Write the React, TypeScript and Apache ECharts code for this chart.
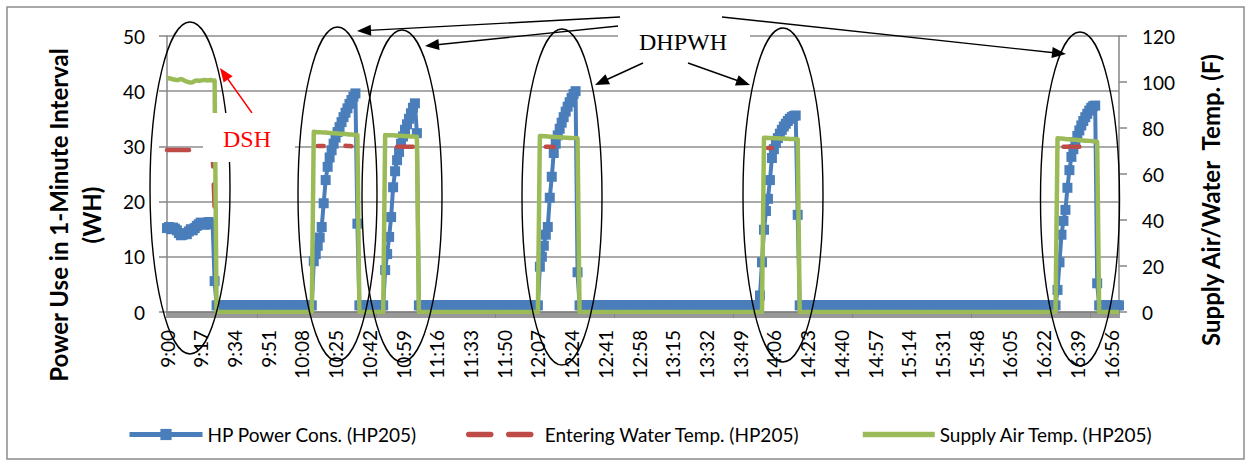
import React, { useEffect, useRef } from "react";
import * as echarts from "echarts";

// ---------- DATA ----------
const MINUTES = 481; // 9:00 .. 17:00, one reading per minute
const categories: string[] = Array.from({ length: MINUTES }, (_, m) =>
  `${9 + Math.floor(m / 60)}:${String(m % 60).padStart(2, "0")}`
);

const POWER_NAME = "HP Power Cons. (HP205)";
const WATER_NAME = "Entering Water Temp. (HP205)";
const AIR_NAME = "Supply Air Temp. (HP205)";

// HP power (WH per minute); off-state reading between runs
const powerIdle = 1.2;
const powerDSH = [15.2, 15.4, 15.0, 15.3, 15.1, 14.8, 14.3, 13.9, 14.0, 14.2, 14.1, 14.6, 15.0, 14.8, 15.2, 15.6, 15.9, 16.2, 16.0, 15.8, 16.1, 16.3, 15.9, 16.0, 5.6];
const powerRun1 = [9.2, 10.5, 12, 13.5, 15.4, 19.7, 23.9, 26.3, 28, 29.3, 30.5, 31.6, 32.6, 33.5, 34.4, 35.3, 36.1, 36.9, 37.7, 38.4, 39, 39.6, 16];
const powerRun2 = [7.6, 10.5, 13.6, 17.2, 22.6, 25.5, 27.5, 29, 30.5, 31.8, 33, 34, 35, 36, 37, 37.8, 32.4];
const powerRun3 = [8.2, 10, 12, 14, 15.4, 20.7, 24.5, 28.8, 30.5, 32, 33.2, 34.3, 35.3, 36.3, 37.2, 38, 38.8, 39.5, 40, 7.2];
const powerRun4 = [3, 9, 14.9, 18.3, 20.5, 23.9, 27.9, 29.5, 30.6, 31.5, 32.3, 33, 33.6, 34.1, 34.6, 35, 35.3, 35.5, 35.6, 17.6];
const powerRun5 = [4, 9, 14, 16.5, 18.5, 22.5, 25.7, 28.1, 29.5, 30.8, 31.9, 32.9, 33.8, 34.6, 35.3, 35.9, 36.5, 37, 37.3, 37.4, 5.2];
const powerRuns = [
  { start: 0, values: powerDSH },
  { start: 74, values: powerRun1 },
  { start: 110, values: powerRun2 },
  { start: 188, values: powerRun3 },
  { start: 299, values: powerRun4 },
  { start: 449, values: powerRun5 },
];

// Supply air temperature (F); reads 0 when the unit is off
const airIdle = 0;
const airDSH = [101.5, 101.7, 101.4, 101.2, 101.0, 100.8, 101.0, 101.3, 101.0, 100.5, 100.2, 99.9, 99.8, 99.9, 100.5, 100.7, 100.5, 100.6, 100.8, 100.9, 100.7, 100.8, 100.9, 100.6, 100.7];
const airRun1 = [78.4, 78.3, 78.2, 78.2, 78.1, 78.0, 78.0, 77.9, 77.8, 77.8, 77.7, 77.7, 77.6, 77.5, 77.5, 77.4, 77.4, 77.3, 77.2, 77.2, 77.1, 77.0, 77.0];
const airRun2 = [77.0, 76.9, 76.9, 76.8, 76.8, 76.7, 76.7, 76.6, 76.6, 76.5, 76.5, 76.4, 76.4, 76.3, 76.3, 76.2, 76.2];
const airRun3 = [76.5, 76.5, 76.4, 76.4, 76.3, 76.2, 76.2, 76.1, 76.1, 76.0, 76.0, 75.9, 75.9, 75.8, 75.8, 75.7, 75.7, 75.6, 75.6, 75.5];
const airRun4 = [75.8, 75.8, 75.7, 75.7, 75.6, 75.6, 75.5, 75.5, 75.4, 75.4, 75.4, 75.3, 75.3, 75.2, 75.2, 75.2, 75.1, 75.1];
const airRun5 = [75.5, 75.4, 75.4, 75.3, 75.2, 75.1, 75.1, 75.0, 74.9, 74.9, 74.8, 74.7, 74.7, 74.6, 74.5, 74.5, 74.4, 74.3, 74.2, 74.1, 74.0];
const airRuns = [
  { start: 0, values: airDSH },
  { start: 74, values: airRun1 },
  { start: 110, values: airRun2 },
  { start: 188, values: airRun3 },
  { start: 301, values: airRun4 },
  { start: 449, values: airRun5 },
];

// Entering water temperature (F); only the visible readings
const waterDSH = [70.4, 70.4, 70.4, 70.4, 70.4, 70.4, 70.4, 70.4, 70.4, 70.4, 70.4, 70.4, 70.4, 70.4, 70.4, 70.4, 70.4, 70.4, 70.4, 70.4, 70.4, 70.4, 70.4, 70.4, 45];
const waterRun1a = [72.2, 72.2, 72.2, 72.2];
const waterRun1b = [72.3, 72.2, 72.2, 72.1];
const waterRun2 = [71.8, 71.8, 71.8, 71.8, 71.8, 71.8, 71.8, 71.8, 71.8];
const waterRun3 = [71.8, 71.8, 71.8, 71.7, 71.7];
const waterRun4 = [71.3, 71.3, 71.3];
const waterRun5 = [71.8, 71.8, 71.8, 71.8, 71.8, 71.8, 71.8, 71.8, 71.8];
const waterRuns = [
  { start: 0, values: waterDSH },
  { start: 76, values: waterRun1a },
  { start: 90, values: waterRun1b },
  { start: 116, values: waterRun2 },
  { start: 191, values: waterRun3 },
  { start: 303, values: waterRun4 },
  { start: 452, values: waterRun5 },
];

const leftTicks = { min: 0, max: 50, step: 10 };
const rightTicks = { min: 0, max: 120, step: 20 };

function build(base: number | null, runs: { start: number; values: number[] }[]) {
  const arr: (number | null)[] = new Array(MINUTES).fill(base);
  runs.forEach((r) => r.values.forEach((v, i) => (arr[r.start + i] = v)));
  return arr;
}

// ---------- annotation helpers ----------
function arrow(x1: number, y1: number, x2: number, y2: number, color: string) {
  const dx = x2 - x1, dy = y2 - y1;
  const len = Math.hypot(dx, dy);
  const ux = dx / len, uy = dy / len;
  const px = -uy, py = ux;
  const L = 14, W = 5.5;
  const bx = x2 - ux * L, by = y2 - uy * L;
  return [
    { type: "line", z: 120, shape: { x1, y1, x2: bx + ux * 2, y2: by + uy * 2 }, style: { stroke: color, lineWidth: 1.4 } },
    { type: "polygon", z: 120, shape: { points: [[x2, y2], [bx + px * W, by + py * W], [bx - px * W, by - py * W]] }, style: { fill: color } },
  ];
}

function ellipse(cx: number, cy: number, rx: number, ry: number) {
  return { type: "ellipse", z: 110, shape: { cx, cy, rx, ry }, style: { fill: "none", stroke: "#000", lineWidth: 1.4 } };
}

const AXIS_GRAY = "#868686";
const FONT = "Lato";
const BLUE = "#4A7EBB";
const RED = "#BE4B48";
const GREEN = "#9BBB59";

export default function App() {
  const ref = useRef<HTMLDivElement>(null);
  useEffect(() => {
    if (!ref.current) return;
    const chart = echarts.init(ref.current, null, { renderer: "svg" });
    const power = build(powerIdle, powerRuns);
    const air = build(airIdle, airRuns);
    const water = build(null, waterRuns);

    const legendText = { fontFamily: FONT, fontSize: 19, color: "#000" };

    chart.setOption({
      animation: false,
      backgroundColor: "#fff",
      grid: { left: 167, top: 36, width: 952, height: 276 },
      xAxis: {
        type: "category",
        data: categories,
        boundaryGap: false,
        axisLine: { lineStyle: { color: AXIS_GRAY, width: 1.5 } },
        axisTick: { show: true, interval: 0, length: 6, lineStyle: { color: "#7f7f7f", width: 1.6 } },
        axisLabel: { interval: 16, rotate: 90, margin: 18, fontFamily: FONT, fontSize: 19, color: "#000" },
        splitLine: { show: false },
      },
      yAxis: [
        {
          type: "value",
          min: leftTicks.min,
          max: leftTicks.max,
          interval: leftTicks.step,
          position: "left",
          axisLine: { show: true, lineStyle: { color: AXIS_GRAY, width: 1.5 } },
          axisTick: { show: true, length: 8, lineStyle: { color: AXIS_GRAY, width: 1.5 } },
          axisLabel: { margin: 22, fontFamily: FONT, fontSize: 19, color: "#000" },
          splitLine: { show: true, lineStyle: { color: "#8e8e8e", width: 1.5 } },
        },
        {
          type: "value",
          min: rightTicks.min,
          max: rightTicks.max,
          interval: rightTicks.step,
          position: "right",
          axisLine: { show: true, lineStyle: { color: AXIS_GRAY, width: 1.5 } },
          axisTick: { show: true, length: 8, lineStyle: { color: AXIS_GRAY, width: 1.5 } },
          axisLabel: { margin: 23, fontFamily: FONT, fontSize: 19, color: "#000" },
          splitLine: { show: false },
        },
      ],
      legend: [
        {
          data: [POWER_NAME], left: 122, top: 420, itemWidth: 73, itemHeight: 14, selectedMode: false,
          textStyle: legendText, lineStyle: { width: 5, color: BLUE }, itemStyle: { color: BLUE },
        },
        {
          data: [WATER_NAME], left: 461, top: 420, itemWidth: 63, itemHeight: 14, selectedMode: false,
          textStyle: { ...legendText, padding: [0, 0, 0, 8] },
          lineStyle: { width: 5.5, color: RED, type: [22, 18], cap: "round" }, itemStyle: { opacity: 0 },
        },
        {
          data: [AIR_NAME], left: 855, top: 420, itemWidth: 72, itemHeight: 14, selectedMode: false,
          textStyle: legendText, lineStyle: { width: 5.5, color: GREEN }, itemStyle: { opacity: 0 },
        },
      ],
      series: [
        {
          name: POWER_NAME,
          type: "line",
          yAxisIndex: 0,
          data: power,
          z: 2,
          symbol: "rect",
          symbolSize: 10,
          showSymbol: true,
          showAllSymbol: true,
          itemStyle: { color: BLUE },
          lineStyle: { color: BLUE, width: 4, join: "round" },
        },
        {
          name: WATER_NAME,
          type: "line",
          yAxisIndex: 1,
          data: water,
          z: 3,
          symbol: "none",
          connectNulls: false,
          itemStyle: { color: RED },
          lineStyle: { color: RED, width: 4.5, type: [22, 18], cap: "round", join: "round" },
        },
        {
          name: AIR_NAME,
          type: "line",
          yAxisIndex: 1,
          data: air,
          z: 4,
          symbol: "none",
          itemStyle: { color: GREEN },
          lineStyle: { color: GREEN, width: 4.5, join: "round" },
        },
      ],
      graphic: [
        { type: "rect", z: 1, silent: true, shape: { x: 7, y: 7, width: 1237, height: 452 }, style: { fill: "none", stroke: "#8c8c8c", lineWidth: 1.5 } },
        { type: "text", z: 130, x: 58, y: 215, rotation: Math.PI / 2, style: { text: "Power Use in 1-Minute Interval", font: `bold 24px ${FONT}`, fill: "#000", align: "center", verticalAlign: "middle", textAlign: "center", textVerticalAlign: "middle" } },
        { type: "text", z: 130, x: 91, y: 215, rotation: Math.PI / 2, style: { text: "(WH)", font: `bold 24px ${FONT}`, fill: "#000", align: "center", verticalAlign: "middle", textAlign: "center", textVerticalAlign: "middle" } },
        { type: "text", z: 130, x: 1210, y: 200, rotation: Math.PI / 2, style: { text: "Supply Air/Water  Temp. (F)", font: `bold 24px ${FONT}`, fill: "#000", align: "center", verticalAlign: "middle", textAlign: "center", textVerticalAlign: "middle" } },
        ellipse(190, 188, 40, 166),
        ellipse(337.5, 194, 39.5, 167),
        ellipse(402, 196, 40, 166),
        ellipse(562, 197, 40, 168),
        ellipse(783, 195, 40, 167),
        ellipse(1080, 199, 39.5, 167),
        { type: "rect", z: 125, shape: { x: 203, y: 113, width: 92, height: 49 }, style: { fill: "#fff" } },
        { type: "text", z: 126, x: 247, y: 139, style: { text: "DSH", font: "24px 'Liberation Serif'", fill: "#FF0000", align: "center", verticalAlign: "middle", textAlign: "center", textVerticalAlign: "middle" } },
        { type: "rect", z: 125, shape: { x: 618, y: 24, width: 132, height: 36 }, style: { fill: "#fff" } },
        { type: "text", z: 126, x: 683, y: 42, style: { text: "DHPWH", font: "24px 'Liberation Serif'", fill: "#000", align: "center", verticalAlign: "middle", textAlign: "center", textVerticalAlign: "middle" } },
        ...arrow(252, 113, 220, 68, "#FF0000"),
        ...arrow(620, 17, 357, 31, "#000"),
        ...arrow(628, 25, 425, 46, "#000"),
        ...arrow(643, 63, 595, 85, "#000"),
        ...arrow(688, 63, 750, 85, "#000"),
        ...arrow(722, 17, 1066, 54, "#000"),
      ],
    });
    return () => chart.dispose();
  }, []);
  return (
    <div
      ref={ref}
      style={{ position: "fixed", left: 0, top: 0, width: 1253, height: 465, background: "#fff" }}
    />
  );
}
